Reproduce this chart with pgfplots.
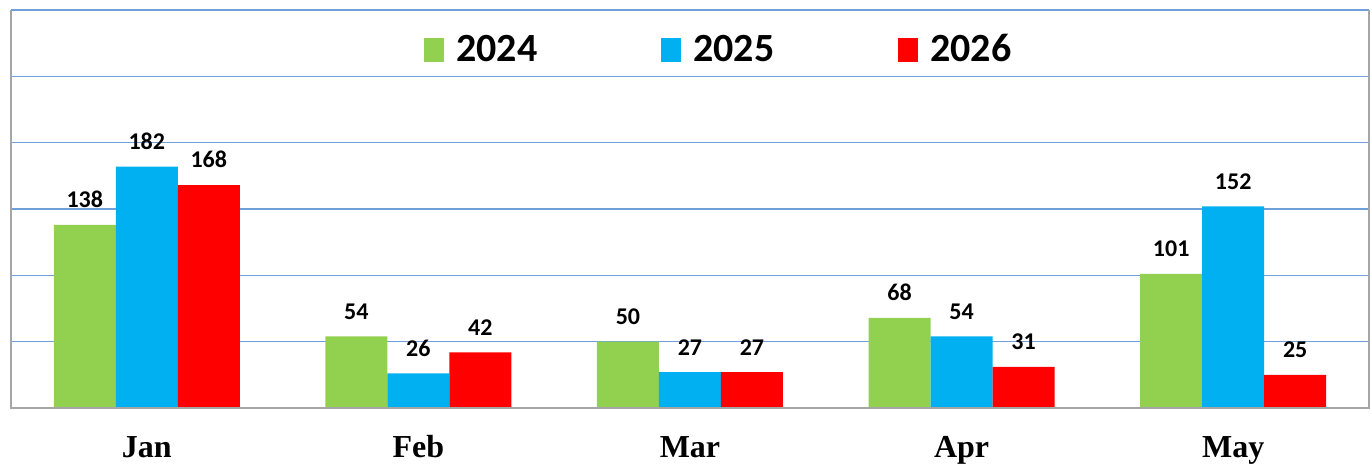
\documentclass[border=0pt]{standalone}
\usepackage{fontspec}
\setmainfont{Carlito}
\newfontfamily\catfont{Liberation Serif}
\usepackage{pgfplots}
\pgfplotsset{compat=1.18}
\definecolor{cgreen}{HTML}{92D050}
\definecolor{cblue}{HTML}{00B0F0}
\definecolor{cred}{HTML}{FF0000}
\definecolor{gridblue}{HTML}{6FA0DC}
\definecolor{axgray}{HTML}{A6A6A6}
\begin{document}
\begin{tikzpicture}
\begin{axis}[
  scale only axis,
  width=679pt, height=199pt,
  ybar=0pt, bar width=31pt,
  xmin=-0.5, xmax=4.5,
  ymin=0, ymax=300,
  xtick={0,1,2,3,4},
  xticklabels={Jan,Feb,Mar,Apr,May},
  xticklabel style={font=\catfont\bfseries\fontsize{16}{18}\selectfont, text height=11pt, text depth=3.5pt, yshift=-10pt},
  ytick={0,50,100,150,200,250,300},
  yticklabels={},
  major tick length=0pt,
  ymajorgrids,
  grid style={gridblue, line width=0.8pt},
  axis line style={draw=none},
  clip=false,
  /pgf/number format/assume math mode=true,
  nodes near coords,
  every node near coord/.append style={font=\bfseries\fontsize{12}{14}\selectfont, yshift=5pt, text=black},
  legend columns=3,
  legend style={draw=none, fill=none, at={(rel axis cs:0.522,0.9)}, anchor=center,
    font=\bfseries\fontsize{20}{24}\selectfont,
    /tikz/every odd column/.append style={column sep=4pt},
    /tikz/every even column/.append style={column sep=60pt}},
  legend image code/.code={\fill[#1] (0pt,-6pt) rectangle (10pt,6pt);},
]
\addplot[fill=cgreen, draw=none] coordinates {(0,138) (1,54) (2,50) (3,68) (4,101)};
\addplot[fill=cblue, draw=none] coordinates {(0,182) (1,26) (2,27) (3,54) (4,152)};
\addplot[fill=cred, draw=none] coordinates {(0,168) (1,42) (2,27) (3,31) (4,25)};
\legend{2024,2025,2026}
\draw[axgray, line width=0.9pt] (rel axis cs:0,1)--(rel axis cs:0,0)--(rel axis cs:1,0)--(rel axis cs:1,1);
\coordinate (bbl) at (rel axis cs:-0.0081,-0.1558);
\coordinate (bbr) at (rel axis cs:1.0015,1.0251);
\end{axis}
\pgfresetboundingbox
\path (bbl) rectangle (bbr);
\end{tikzpicture}
\end{document}
